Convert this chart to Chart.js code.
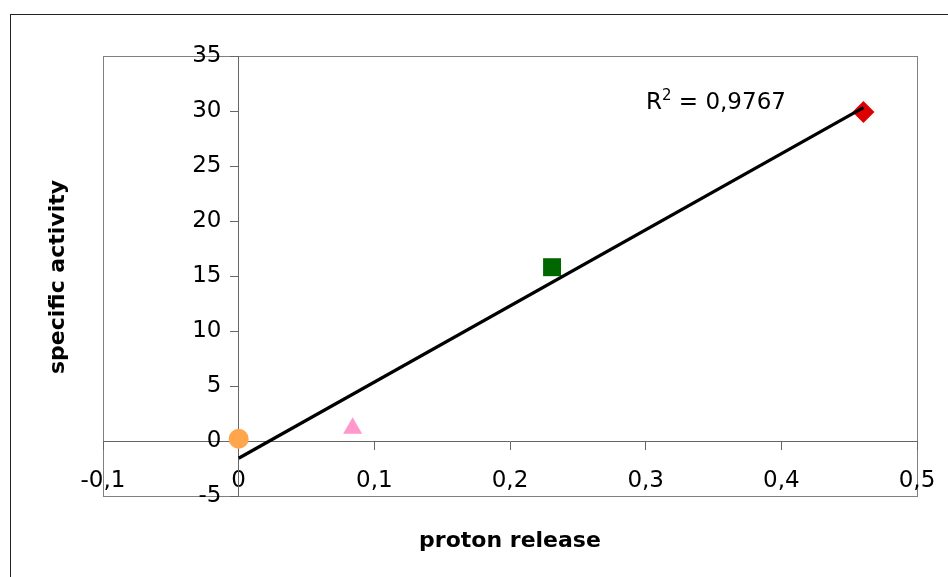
<!DOCTYPE html>
<html>
<head>
<meta charset="utf-8">
<title>specific activity vs proton release</title>
<script src="https://cdn.jsdelivr.net/npm/chart.js@4.4.1/dist/chart.umd.min.js"></script>
<style>
  html, body { margin: 0; padding: 0; background: #fff; }
  #wrap { position: relative; width: 948px; height: 577px; overflow: hidden; }
  .lbl { position: absolute; font-family: 'DejaVu Sans', sans-serif; color: #000; white-space: nowrap; line-height: 1; }
  .axis-title { font-weight: bold; font-size: 22px; }
  #ytitle { left: 57px; top: 277px; transform: translate(-50%, -50%) rotate(-90deg); }
  #xtitle { left: 510px; top: 529px; transform: translateX(-50%); }
  #rsq { left: 646px; top: 90px; font-size: 23px; }
  #rsq .sup { position: relative; top: -9px; font-size: 15px; }
</style>
</head>
<body>
<div id="wrap">
  <canvas id="chart"></canvas>
  <div class="lbl axis-title" id="ytitle">specific activity</div>
  <div class="lbl axis-title" id="xtitle">proton release</div>
  <div class="lbl" id="rsq">R<span class="sup">2</span> = 0,9767</div>
</div>
<script>
// values
const protonRelease = [0, 0.084, 0.231, 0.4605];
const specificActivity = [0.2, 1.15, 15.8, 29.9];

// linear trendline as drawn (start and end)
const trendX = [0, 0.4605];
const trendY = [-1.57, 30.3];

// axis ranges and steps
const xRange = [-0.1, 0.5];
const xStep = 0.1;
const yRange = [-5, 35];
const yStep = 5;

// one marker per point, like the excel series
const pointStyles = ['circle', 'triangle', 'rect', 'rectRot'];
const pointColors = ['#ffa64d', '#ff99cc', '#006600', '#dd0000'];
const pointSizes = [10, 11, 12.7, 11];

Chart.defaults.font.family = "'DejaVu Sans', sans-serif";
Chart.defaults.font.size = 23;
Chart.defaults.color = '#000';

const commaNum = v => (Math.round(v * 10) / 10).toString().replace('.', ',');

// plot-area frame and the outer chart border
const frames = {
    id: 'frames',
    beforeDraw(chart) {
        const { ctx, chartArea: a } = chart;
        ctx.save();
        ctx.lineWidth = 1;
        ctx.strokeStyle = '#222';
        ctx.strokeRect(10.5, 14.5, 1000, 1000);
        ctx.strokeStyle = '#808080';
        ctx.strokeRect(a.left + 0.5, a.top + 0.5, a.width, a.height);
        ctx.restore();
    }
};

const axisColor = '#666';

new Chart(document.getElementById('chart'), {
    type: 'scatter',
    data: {
        datasets: [
            {
                label: 'trend',
                data: trendX.map((x, i) => ({ x, y: trendY[i] })),
                showLine: true,
                borderColor: '#000',
                borderWidth: 3.2,
                pointRadius: 0,
                order: 0
            },
            {
                label: 'samples',
                data: protonRelease.map((x, i) => ({ x, y: specificActivity[i] })),
                pointStyle: pointStyles,
                pointRadius: pointSizes,
                backgroundColor: pointColors,
                borderColor: pointColors,
                borderWidth: 0,
                order: 1
            }
        ]
    },
    options: {
        responsive: true,
        maintainAspectRatio: false,
        animation: false,
        layout: { padding: { left: 103, top: 56, right: 31, bottom: 81 } },
        plugins: {
            legend: { display: false },
            tooltip: { enabled: false }
        },
        scales: {
            x: {
                type: 'linear',
                position: { y: 0 },
                min: xRange[0],
                max: xRange[1],
                grid: { drawOnChartArea: false, drawTicks: true, tickLength: 8, color: axisColor },
                border: { color: axisColor, width: 1 },
                ticks: { stepSize: xStep, autoSkip: false, maxRotation: 0, padding: 18, callback: commaNum },
                // labels may run past the plot edge, as in the original
                afterFit: s => { s.paddingLeft = 0; s.paddingRight = 0; }
            },
            y: {
                type: 'linear',
                position: { x: 0 },
                min: yRange[0],
                max: yRange[1],
                grid: { drawOnChartArea: false, drawTicks: true, tickLength: 8, color: axisColor },
                border: { color: axisColor, width: 1 },
                ticks: { stepSize: yStep, autoSkip: false, callback: v => commaNum(v) + '\u2002\u2005' },
                afterFit: s => { s.paddingTop = 0; s.paddingBottom = 0; }
            }
        }
    },
    plugins: [frames]
});
</script>
</body>
</html>
